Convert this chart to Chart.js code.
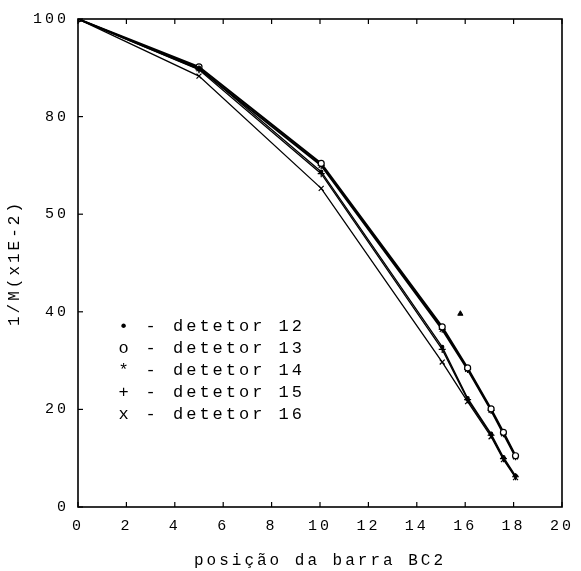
<!DOCTYPE html>
<html><head><meta charset="utf-8">
<script src="https://cdn.jsdelivr.net/npm/chart.js@4/dist/chart.umd.min.js"></script>
<style>html,body{margin:0;padding:0;background:#fff}#wrap{width:581px;height:571px}</style>
</head><body><div id="wrap"><canvas id="c" width="581" height="571"></canvas></div>
<script>
// ---- data ----
const positions = [0, 5.0, 10.05, 15.05, 16.1, 17.07, 17.58, 18.08];
const det12 = [100, 90.0, 68.7, 32.8, 22.3, 15.0, 10.2, 6.4];
const det13 = [100, 90.2, 70.4, 36.9, 28.5, 20.1, 15.3, 10.5];
const det14 = [100, 89.8, 70.0, 36.4, 28.2, 19.8, 15.0, 10.3];
const det15 = [100, 89.6, 68.3, 32.3, 22.0, 14.7, 9.9, 6.2];
const det16 = [100, 88.3, 65.3, 29.7, 21.6, 14.4, 9.7, 6.0];
const strayX = [15.8];
const strayY = [39.6];
const seriesLabels = ['detetor 12', 'detetor 13', 'detetor 14', 'detetor 15', 'detetor 16'];
const legendSymbols = ['•', 'o', '*', '+', 'x'];
const xTickValues = [0, 2, 4, 6, 8, 10, 12, 14, 16, 18, 20];
const xTickLabels = ['0', '2', '4', '6', '8', '10', '12', '14', '16', '18', '20'];
const yTickValues = [0, 20, 40, 60, 80, 100];
const yTickLabels = ['0', '20', '40', '50', '80', '100'];
const xTitle = 'posição da barra BC2';
const yTitle = '1/M(x1E-2)';

const FONT = "'Liberation Mono', 'DejaVu Sans Mono', monospace";
const toPts = (ys) => ys.map((v, i) => ({x: positions[i], y: v}));

const styles = [
  {pointStyle: 'circle', pointRadius: 1.6, borderWidth: 1.3, pointBackgroundColor: '#000'},
  {pointStyle: 'circle', pointRadius: 3, borderWidth: 2, pointBackgroundColor: '#fff'},
  {pointStyle: 'star', pointRadius: 3.5, borderWidth: 2, pointBackgroundColor: '#000'},
  {pointStyle: 'cross', pointRadius: 3.5, borderWidth: 1.3, pointBackgroundColor: '#000'},
  {pointStyle: 'crossRot', pointRadius: 3.5, borderWidth: 1.3, pointBackgroundColor: '#000'}
];
const allSeries = [det12, det13, det14, det15, det16];

const datasets = allSeries.map((s, i) => ({
  label: seriesLabels[i],
  data: toPts(s),
  borderColor: '#000',
  pointBorderColor: '#000',
  pointBorderWidth: 1.2,
  showLine: true,
  tension: 0,
  ...styles[i]
}));
datasets.push({
  label: '',
  data: strayX.map((x, i) => ({x, y: strayY[i]})),
  showLine: false,
  pointStyle: 'triangle',
  pointRadius: 3,
  pointBackgroundColor: '#000',
  pointBorderColor: '#000'
});

const framePlugin = {
  id: 'framePlugin',
  beforeDraw(chart) { chart.ctx.letterSpacing = '3px'; },
  afterDraw(chart, args, opts) {
    const {ctx, chartArea: a, scales: {x, y}} = chart;
    ctx.save();
    ctx.strokeStyle = '#000';
    ctx.lineWidth = 1.6;
    ctx.strokeRect(a.left, a.top, a.right - a.left, a.bottom - a.top);
    ctx.lineWidth = 1.2;
    x.ticks.forEach(t => {
      const px = x.getPixelForValue(t.value);
      ctx.beginPath();
      ctx.moveTo(px, a.bottom); ctx.lineTo(px, a.bottom - 5);
      ctx.moveTo(px, a.top); ctx.lineTo(px, a.top + 5);
      ctx.stroke();
    });
    y.ticks.forEach(t => {
      const py = y.getPixelForValue(t.value);
      ctx.beginPath();
      ctx.moveTo(a.left, py); ctx.lineTo(a.left + 5, py);
      ctx.stroke();
    });
    // typewriter legend inside the plot
    ctx.fillStyle = '#000';
    ctx.font = '17px ' + FONT;
    ctx.textBaseline = 'middle';
    ctx.letterSpacing = '3px';
    seriesLabels.forEach((lab, i) => {
      const yy = opts.y0 + i * opts.dy;
      ctx.textAlign = 'center';
      ctx.fillText(legendSymbols[i], opts.symX, yy);
      ctx.fillText('-', opts.dashX, yy);
      ctx.textAlign = 'left';
      ctx.fillText(lab, opts.textX, yy);
    });
    ctx.restore();
  }
};

new Chart(document.getElementById('c'), {
  type: 'scatter',
  data: {datasets},
  plugins: [framePlugin],
  options: {
    responsive: false,
    animation: false,
    devicePixelRatio: 1,
    layout: {padding: {top: 19, right: 17, left: 0, bottom: 0}},
    elements: {line: {borderColor: '#000'}},
    plugins: {
      legend: {display: false},
      tooltip: {enabled: false},
      framePlugin: {symX: 125, dashX: 152, textX: 173, y0: 326, dy: 22}
    },
    scales: {
      x: {
        type: 'linear', min: 0, max: 20,
        afterBuildTicks: (s) => { s.ticks = xTickValues.map(v => ({value: v})); },
        afterFit: (s) => { s.height = 64; },
        grid: {display: false, drawTicks: false},
        border: {display: false},
        ticks: {
          color: '#000', padding: 10, maxRotation: 0, autoSkip: false,
          font: {family: FONT, size: 15},
          callback: (v, i) => xTickLabels[i]
        },
        title: {display: true, text: xTitle, color: '#000', font: {family: FONT, size: 16}, padding: {top: 0, bottom: 1}}
      },
      y: {
        type: 'linear', min: 0, max: 100,
        afterBuildTicks: (s) => { s.ticks = yTickValues.map(v => ({value: v})); },
        afterFit: (s) => { s.width = 78; },
        grid: {display: false, drawTicks: false},
        border: {display: false},
        ticks: {
          color: '#000', padding: 9, autoSkip: false,
          font: {family: FONT, size: 15},
          callback: (v, i) => yTickLabels[i]
        },
        title: {display: true, text: yTitle, color: '#000', font: {family: FONT, size: 16}, padding: {top: 5, bottom: 0}}
      }
    }
  }
});
</script>
</body></html>
